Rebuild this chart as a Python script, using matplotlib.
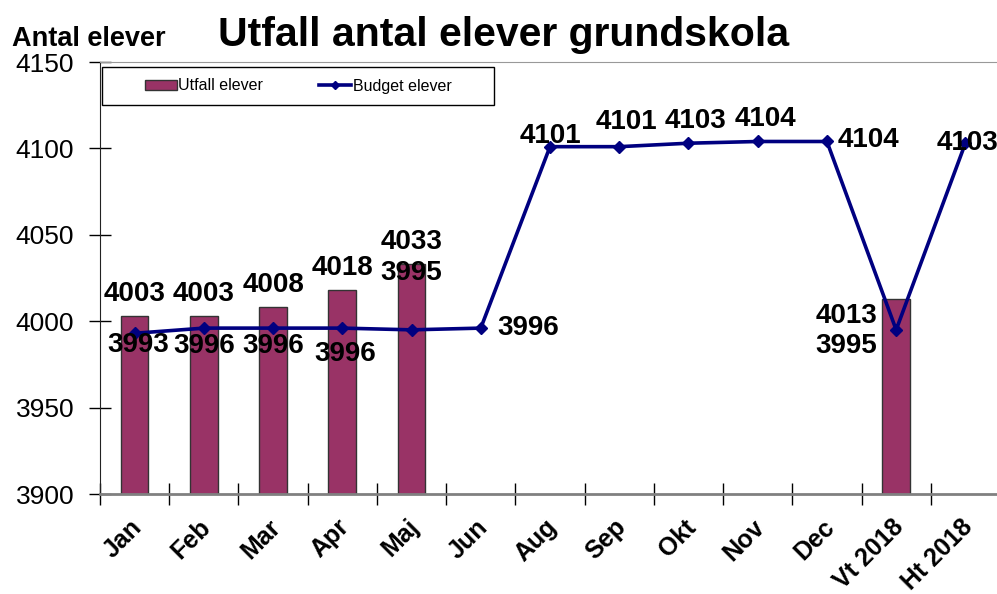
import numpy as np
import matplotlib
matplotlib.use("Agg")
import matplotlib.pyplot as plt
import matplotlib.transforms as mtransforms
from matplotlib.patches import Rectangle, Patch
from matplotlib.lines import Line2D

plt.rcParams['font.family'] = ['Liberation Sans', 'DejaVu Sans']

# data
months = ["Jan", "Feb", "Mar", "Apr", "Maj", "Jun", "Aug", "Sep", "Okt", "Nov",
          "Dec", "Vt 2018", "Ht 2018"]
utfall = [4003, 4003, 4008, 4018, 4033, np.nan, np.nan, np.nan, np.nan, np.nan,
          np.nan, 4013, np.nan]
budget = [3993, 3996, 3996, 3996, 3995, 3996, 4101, 4101, 4103, 4104, 4104, 3995, 4103]

# label offsets in pixels (layout only)
bar_off = [(0, 22)] * 5 + [(0, 0)] * 6 + [(-50, -17), (0, 0)]
line_off = [(4, -12), (0, -18), (0, -18), (3, -26), (0, 57), (47, 0), (0, 11),
            (7, 25), (7, 22), (8, 22), (42, 1), (-50, -16), (2, 0)]

bar_color = "#993366"
line_color = "#000080"

fig = plt.figure(figsize=(9.97, 5.94), dpi=100)
ax = fig.add_axes([100 / 997, 100 / 594, 900 / 997, 432 / 594])

x = np.arange(len(months))
ax.bar(x, utfall, width=0.4, color=bar_color, edgecolor="#333333", linewidth=1, zorder=2)
ax.plot(x, budget, color=line_color, lw=2.6, marker="D", ms=6, zorder=3)

for i, v in enumerate(utfall):
    if not np.isnan(v):
        ax.annotate(f"{int(v)}", (x[i], v), xytext=bar_off[i], textcoords="offset pixels",
                    ha="center", va="center", fontsize=20, fontweight="bold", zorder=4)
for i, v in enumerate(budget):
    ax.annotate(f"{v}", (x[i], v), xytext=line_off[i], textcoords="offset pixels",
                ha="center", va="center", fontsize=20, fontweight="bold", zorder=4)

ax.set_xlim(-0.5, len(months) - 0.5)
ax.set_ylim(3900, 4150)
ax.set_yticks(np.arange(3900, 4151, 50))
ax.tick_params(axis="y", direction="inout", length=16, width=1, labelsize=19, pad=10.5)

ax.set_xticks(x)
ax.set_xticklabels(months, rotation=45, ha="right", rotation_mode="anchor",
                   fontsize=18, fontweight="bold")
ax.set_xticks(np.arange(-0.5, len(months), 1), minor=True)
ax.tick_params(axis="x", which="major", length=0, pad=15)
ax.tick_params(axis="x", which="minor", direction="inout", length=16, width=1)
shift = mtransforms.ScaledTranslation(-5 / 100, 0, fig.dpi_scale_trans)
for lab in ax.get_xticklabels():
    lab.set_transform(lab.get_transform() + shift)

ax.spines["left"].set_color("#222222")
ax.spines["bottom"].set_color("#808080")
ax.spines["bottom"].set_linewidth(2)
ax.spines["top"].set_color("#999999")
ax.spines["right"].set_visible(False)

# legend with separate frame
ax.add_patch(Rectangle((2 / 900, (494 - 105) / 432), 392 / 900, 38 / 432,
                       transform=ax.transAxes, fill=False, edgecolor="black", lw=1, zorder=5))
handles = [Patch(facecolor=bar_color, edgecolor="#333333", label="Utfall elever"),
           Line2D([], [], color=line_color, lw=2.6, marker="D", ms=4, label="Budget elever")]
ax.legend(handles=handles, loc="center", bbox_to_anchor=(198 / 900, (494 - 86) / 432),
          ncol=2, frameon=False, fontsize=11.5, handlelength=2.0, handletextpad=0.1,
          columnspacing=3.5, handleheight=0.6)

fig.text(504 / 997, 1 - 46 / 594, "Utfall antal elever grundskola", ha="center",
         va="baseline", fontsize=29.5, fontweight="bold")
fig.text(12 / 997, 1 - 46 / 594, "Antal elever", ha="left", va="baseline",
         fontsize=19.5, fontweight="bold")

fig.savefig("out.png", dpi=100)
